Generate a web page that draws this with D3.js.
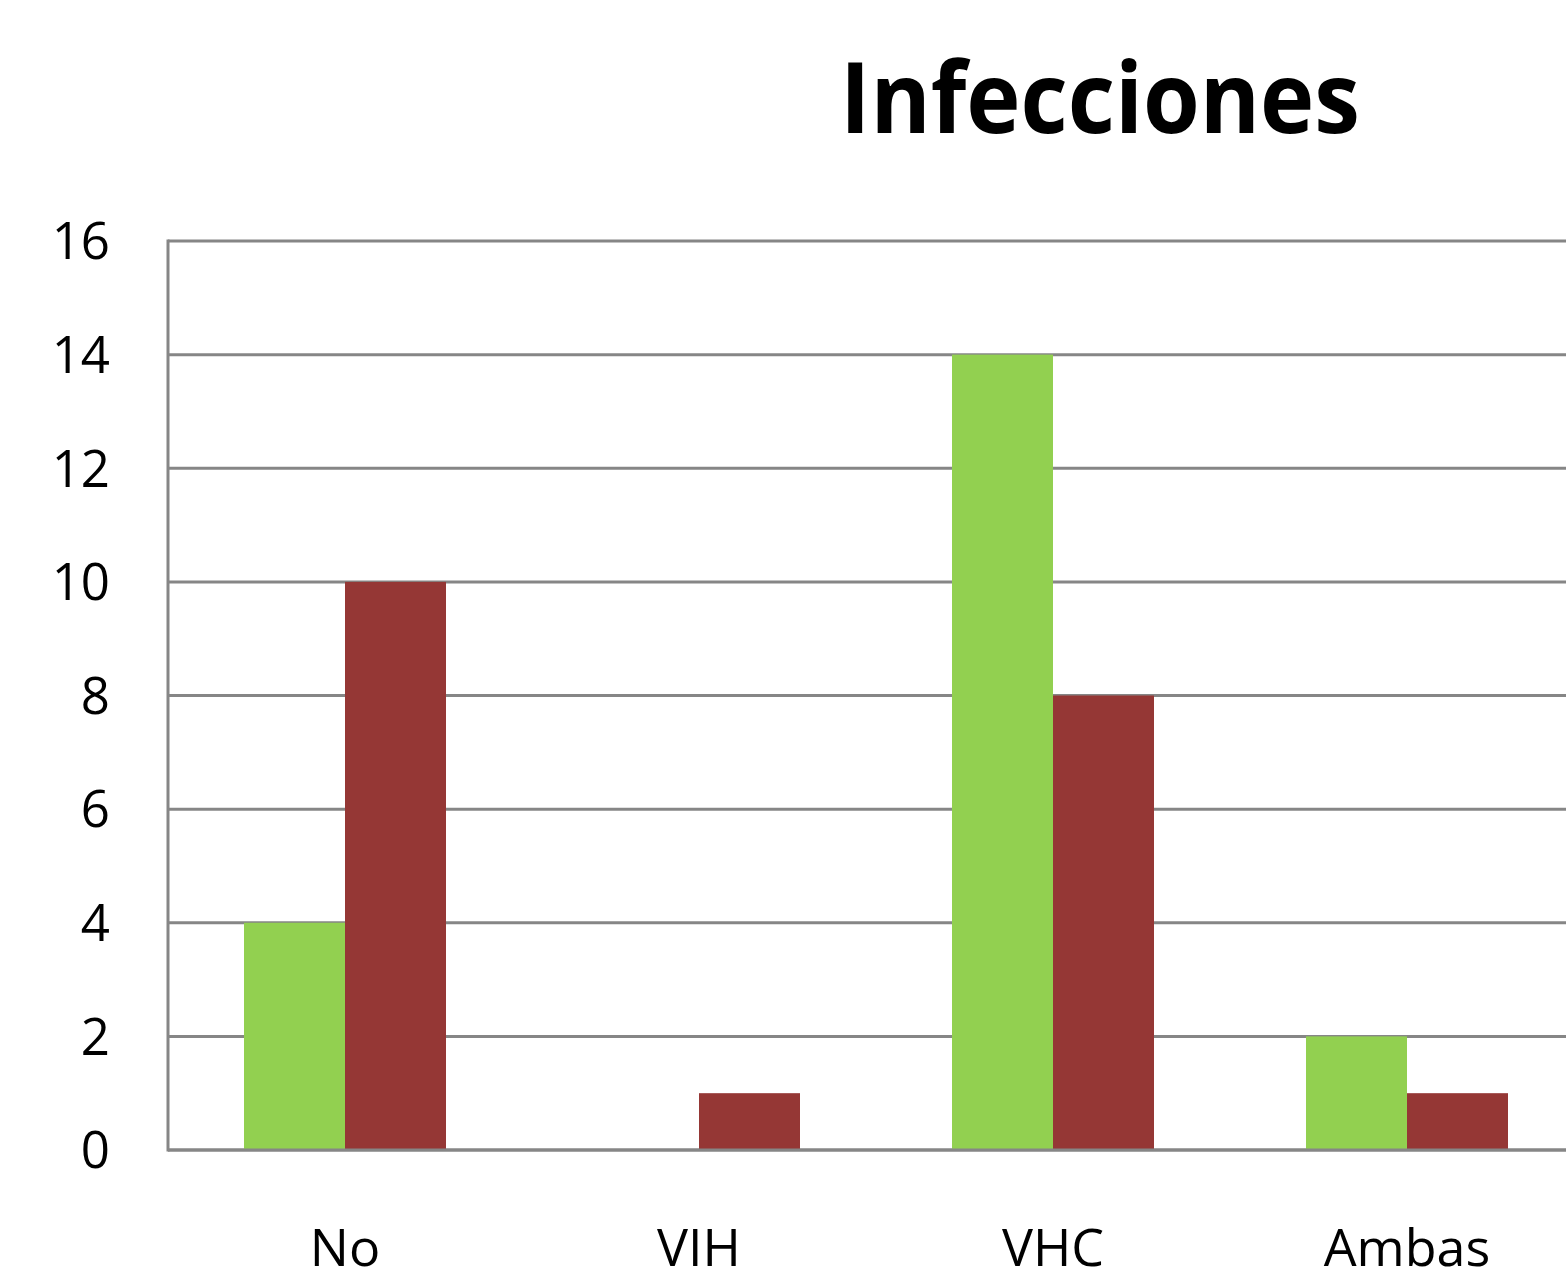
<!DOCTYPE html>
<html>
<head>
<meta charset="utf-8">
<script src="https://cdn.jsdelivr.net/npm/d3@7"></script>
<style>
  body { margin: 0; background: #fff; }
  text { font-family: "Open Sans", "DejaVu Sans", sans-serif; fill: #000; }
</style>
</head>
<body>
<script>
// datos
const categorias = ["No", "VIH", "VHC", "Ambas"];
const series = ["serie1", "serie2"];
const valoresVerde = [4, 0, 14, 2];
const valoresRojo = [10, 1, 8, 1];
const ticksY = [0, 2, 4, 6, 8, 10, 12, 14, 16];
const colores = ["#92d050", "#953735"];

const W = 1566, H = 1281;
const margenIzq = 168, margenSup = 241, margenInf = 1150;
const paso = 354;

const svg = d3.select("body").append("svg")
  .attr("width", W)
  .attr("height", H);

const x = d3.scaleBand()
  .domain(categorias)
  .range([margenIzq, margenIzq + paso * categorias.length]);

const xs = d3.scaleBand()
  .domain(series)
  .range([76, 278]);

const y = d3.scaleLinear()
  .domain([0, 16])
  .range([margenInf, margenSup]);

// lineas de cuadricula
svg.append("g")
  .selectAll("line")
  .data(ticksY)
  .enter()
  .append("line")
  .attr("x1", margenIzq)
  .attr("x2", W)
  .attr("y1", d => y(d))
  .attr("y2", d => y(d))
  .attr("stroke", "#868686")
  .attr("stroke-width", 3);

// eje vertical
svg.append("line")
  .attr("x1", margenIzq).attr("x2", margenIzq)
  .attr("y1", y(16) - 1.5).attr("y2", y(0) + 1.5)
  .attr("stroke", "#868686")
  .attr("stroke-width", 3);

// etiquetas eje y
svg.append("g")
  .selectAll("text")
  .data(ticksY)
  .enter()
  .append("text")
  .attr("x", 110)
  .attr("y", d => y(d))
  .attr("dy", "0.36em")
  .attr("text-anchor", "end")
  .attr("font-size", 51)
  .text(d => d);

// barras
const filas = categorias.map((c, i) => ({ cat: c, vals: [valoresVerde[i], valoresRojo[i]] }));

const grupos = svg.append("g")
  .selectAll("g")
  .data(filas)
  .enter()
  .append("g")
  .attr("transform", d => `translate(${x(d.cat)},0)`);

grupos.selectAll("rect")
  .data(d => d.vals.map((v, j) => ({ s: series[j], v: v, j: j })))
  .enter()
  .append("rect")
  .attr("x", d => xs(d.s))
  .attr("width", xs.bandwidth())
  .attr("y", d => y(d.v))
  .attr("height", d => y(0) - y(d.v))
  .attr("fill", d => colores[d.j]);

// linea base encima
svg.append("line")
  .attr("x1", margenIzq).attr("x2", W)
  .attr("y1", y(0)).attr("y2", y(0))
  .attr("stroke", "#868686")
  .attr("stroke-width", 3);

// etiquetas categorias
svg.append("g")
  .selectAll("text")
  .data(categorias)
  .enter()
  .append("text")
  .attr("x", d => x(d) + xs(series[1]))
  .attr("y", 1266)
  .attr("text-anchor", "middle")
  .attr("font-size", 52)
  .text(d => d);

// titulo
svg.append("text")
  .attr("x", 1100)
  .attr("y", 133)
  .attr("text-anchor", "middle")
  .attr("font-size", 98)
  .attr("font-weight", "bold")
  .attr("textLength", 520)
  .attr("lengthAdjust", "spacingAndGlyphs")
  .text("Infecciones");
</script>
</body>
</html>
